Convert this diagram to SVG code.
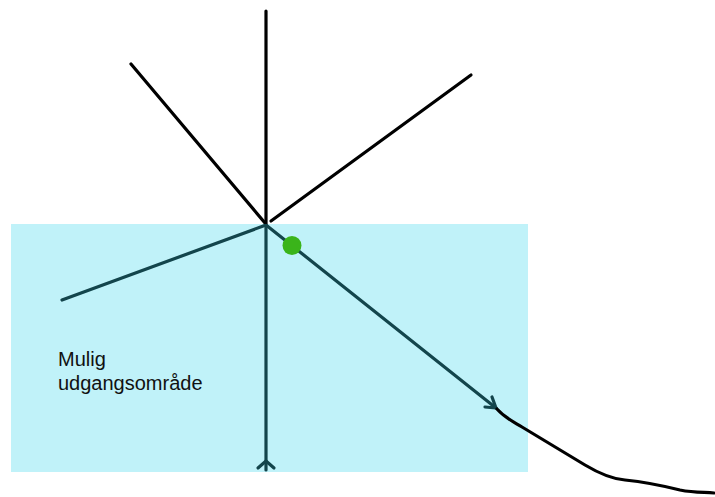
<svg xmlns="http://www.w3.org/2000/svg" width="715" height="497" viewBox="0 0 715 497">
<style>
.ln{stroke:#000;stroke-width:3.2;fill:none;stroke-linecap:round;stroke-linejoin:round}
.lbl{font-family:"Liberation Sans",Arial,sans-serif;font-size:20px;fill:#111}
</style>
<rect width="715" height="497" fill="#fff"/>
<g id="connectors">
<line class="ln" x1="266" y1="11" x2="266" y2="470"/>
<line class="ln" x1="131" y1="64" x2="265" y2="223"/>
<line class="ln" x1="471" y1="75" x2="271" y2="221"/>
<line class="ln" x1="62" y1="300" x2="266" y2="225"/>
<line class="ln" x1="266" y1="225" x2="496" y2="408"/>
<polyline class="ln" points="258,468 266,461 274,468"/>
<polyline class="ln" points="485,407 496,408 492,397"/>
</g>
<g id="area">
<rect x="11" y="224" width="517" height="248" fill="rgb(60,215,235)" fill-opacity="0.32"/>
<text class="lbl" x="58" y="366">Mulig</text>
<text class="lbl" x="58" y="390">udgangsområde</text>
</g>
<g id="dot">
<circle cx="292" cy="245.5" r="9.5" fill="#3ab41a"/>
</g>
<g id="curve">
<path class="ln" d="M497,409 C505,418 512,421 522,427 C540,438 560,450 585,465 C600,474 612,479 625,480 C645,482 660,485 680,490 C695,493 705,492 714,493"/>
</g>
</svg>
